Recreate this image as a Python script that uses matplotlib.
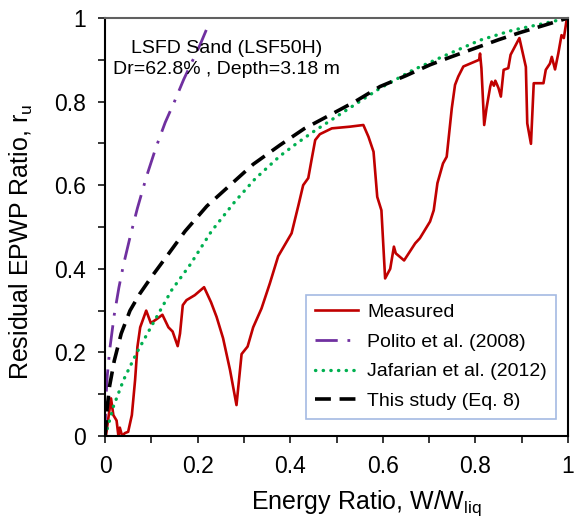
import matplotlib
matplotlib.use('Agg')
import matplotlib.pyplot as plt
from matplotlib import ticker

plt.rcParams['font.family'] = ['Liberation Sans', 'DejaVu Sans']
plt.rcParams['mathtext.fontset'] = 'custom'
plt.rcParams['mathtext.rm'] = 'Liberation Sans'

# measured residual EPWP ratio vs energy ratio
meas_x = [0.002, 0.013, 0.018, 0.025, 0.029, 0.032, 0.037, 0.043, 0.05, 0.058,
          0.065, 0.07, 0.076, 0.089, 0.099, 0.112, 0.124, 0.137, 0.146, 0.157,
          0.162, 0.168, 0.176, 0.194, 0.214, 0.229, 0.241, 0.255, 0.27, 0.284,
          0.295, 0.308, 0.32, 0.338, 0.356, 0.374, 0.403, 0.418, 0.428, 0.439,
          0.446, 0.454, 0.464, 0.49, 0.529, 0.558, 0.569, 0.58, 0.588, 0.597,
          0.605, 0.616, 0.624, 0.628, 0.646, 0.67, 0.68, 0.702, 0.71, 0.718,
          0.73, 0.738, 0.749, 0.756, 0.763, 0.774, 0.808, 0.81, 0.813, 0.819,
          0.824, 0.832, 0.835, 0.84, 0.843, 0.847, 0.85, 0.855, 0.861, 0.871,
          0.876, 0.895, 0.909, 0.912, 0.92, 0.926, 0.947, 0.952, 0.961, 0.965,
          0.972, 0.979, 0.986, 0.991, 0.997]
meas_y = [0.0, 0.09, 0.05, 0.037, 0.0, 0.02, 0.0, 0.007, 0.01, 0.05,
          0.134, 0.213, 0.26, 0.30, 0.27, 0.28, 0.29, 0.26, 0.25, 0.215,
          0.245, 0.313, 0.325, 0.337, 0.356, 0.32, 0.285, 0.234, 0.158, 0.074,
          0.196, 0.214, 0.26, 0.305, 0.365, 0.43, 0.485, 0.553, 0.60, 0.617,
          0.66, 0.708, 0.722, 0.736, 0.74, 0.744, 0.716, 0.68, 0.572, 0.54,
          0.377, 0.40, 0.453, 0.437, 0.42, 0.461, 0.473, 0.513, 0.54, 0.605,
          0.652, 0.668, 0.784, 0.84, 0.86, 0.884, 0.90, 0.915, 0.88, 0.744,
          0.784, 0.836, 0.848, 0.838, 0.85, 0.84, 0.832, 0.812, 0.876, 0.88,
          0.912, 0.952, 0.883, 0.748, 0.699, 0.844, 0.844, 0.876, 0.891, 0.907,
          0.877, 0.915, 0.959, 0.952, 0.995]

# Polito et al. (2008)
polito_x = [0.0, 0.002, 0.005, 0.01, 0.02, 0.03, 0.04, 0.055, 0.07, 0.09,
            0.11, 0.13, 0.15, 0.17, 0.19, 0.205, 0.222]
polito_y = [0.0, 0.09, 0.145, 0.205, 0.29, 0.355, 0.41, 0.48, 0.545, 0.622,
            0.69, 0.75, 0.80, 0.853, 0.90, 0.935, 0.98]

# Jafarian et al. (2012)
jaf_x = [0.0, 0.004, 0.018, 0.04, 0.068, 0.104, 0.144, 0.184, 0.23, 0.28,
         0.324, 0.378, 0.414, 0.45, 0.522, 0.594, 0.666, 0.738, 0.81, 0.881,
         0.94, 1.0]
jaf_y = [0.0, 0.014, 0.07, 0.134, 0.198, 0.27, 0.349, 0.41, 0.49, 0.56,
         0.615, 0.67, 0.70, 0.728, 0.78, 0.832, 0.876, 0.912, 0.947, 0.971,
         0.985, 1.0]

# This study (Eq. 8)
eq8_x = [0.0, 0.004, 0.01, 0.02, 0.035, 0.054, 0.075, 0.10, 0.14, 0.173,
         0.22, 0.27, 0.32, 0.378, 0.43, 0.486, 0.54, 0.594, 0.65, 0.702,
         0.745, 0.81, 0.85, 0.896, 0.95, 1.0]
eq8_y = [0.0, 0.06, 0.12, 0.18, 0.245, 0.30, 0.34, 0.38, 0.44, 0.49,
         0.55, 0.60, 0.65, 0.696, 0.735, 0.768, 0.80, 0.836, 0.862, 0.888,
         0.906, 0.932, 0.948, 0.965, 0.983, 1.0]

fig = plt.figure(figsize=(5.8, 5.19), dpi=100)
ax = fig.add_axes([105/580, 1-436/519, 463/580, 418/519])

ax.plot(meas_x, meas_y, color='#C00000', lw=1.9, label='Measured')
ax.plot(polito_x, polito_y, color='#7030A0', lw=2.0,
        linestyle=(0, (8, 3.5, 1, 3.5)), label='Polito et al. (2008)')
ax.plot(jaf_x, jaf_y, color='#00B050', lw=2.4, dash_capstyle='round',
        linestyle=(0, (0.1, 2.2)), label='Jafarian et al. (2012)')
ax.plot(eq8_x, eq8_y, color='black', lw=2.6,
        linestyle=(0, (4.4, 2.4)), label='This study (Eq. 8)')

ax.set_xlim(0, 1)
ax.set_ylim(0, 1)
ax.xaxis.set_major_locator(ticker.MultipleLocator(0.2))
ax.xaxis.set_minor_locator(ticker.MultipleLocator(0.1))
ax.yaxis.set_major_locator(ticker.MultipleLocator(0.2))
ax.yaxis.set_minor_locator(ticker.MultipleLocator(0.1))
fmt = ticker.FuncFormatter(lambda v, pos: '%g' % round(v, 2))
ax.xaxis.set_major_formatter(fmt)
ax.yaxis.set_major_formatter(fmt)
ax.tick_params(which='both', direction='out', length=5, width=1.1,
               labelsize=16.5, pad=9)

for s in ['left', 'bottom', 'right']:
    ax.spines[s].set_linewidth(1.5)
    ax.spines[s].set_color('black')
ax.spines['top'].set_linewidth(1.5)
ax.spines['top'].set_color('#606060')

ax.set_xlabel(r'Energy Ratio, W/W$_{\mathrm{liq}}$', fontsize=18)
ax.xaxis.set_label_coords(0.564, -0.126)
ax.set_ylabel(r'Residual EPWP Ratio, r$_{\mathrm{u}}$', fontsize=18)
ax.yaxis.set_label_coords(-0.152, 0.464)

ax.text(0.263, 0.928, 'LSFD Sand (LSF50H)', transform=ax.transAxes,
        ha='center', va='center', fontsize=14)
ax.text(0.263, 0.876, 'Dr=62.8% , Depth=3.18 m', transform=ax.transAxes,
        ha='center', va='center', fontsize=14)

leg = ax.legend(loc='lower right', bbox_to_anchor=(0.974, 0.041),
                borderaxespad=0, fontsize=14, fancybox=False,
                handlelength=2.2, labelspacing=0.62, handletextpad=0.5,
                borderpad=0.45)
leg.get_frame().set_edgecolor('#8EA9DB')
leg.get_frame().set_linewidth(1.2)

fig.savefig('out.png', dpi=100)
